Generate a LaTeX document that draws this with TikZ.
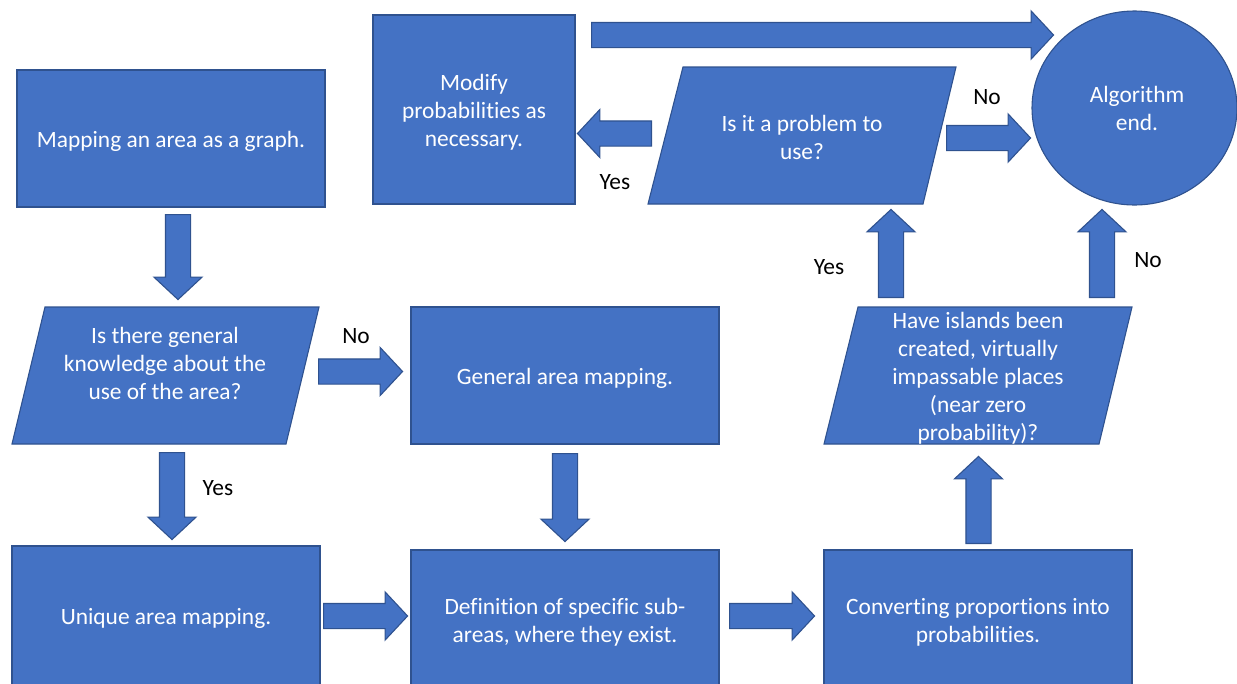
\documentclass[tikz,border=0pt]{standalone}
\usepackage{fontspec}
\setmainfont{Carlito}[RawFeature={-liga;-clig}]
\usetikzlibrary{shapes.arrows,shapes.geometric}
\definecolor{fillblue}{HTML}{4472C4}
\definecolor{edgeblue}{HTML}{2F528F}
\tikzset{
  blk/.style={fill=fillblue, draw=edgeblue, line width=1.1pt},
  box/.style={blk, rectangle, inner sep=0pt},
  txt/.style={inner sep=0pt, text=white, align=center, font=\fontsize{23.4}{28}\selectfont},
  lbl/.style={inner sep=0pt, text=black, font=\fontsize{23.4}{28}\selectfont},
  barrow/.style={blk, single arrow, inner xsep=0pt, inner ysep=12pt, anchor=tail,
    single arrow head extend=11.5pt, single arrow tip angle=94, minimum height=#1},
}
\begin{document}
\begin{tikzpicture}[x=1pt, y=-1pt]
\useasboundingbox (0,0) rectangle (1237,683);
\clip (0,0) rectangle (1237,683);

% boxes
\node[box, minimum width=308pt, minimum height=137pt] (map) at (171,138.5) {};
\node[txt] (mapt) at ([yshift=-2.5pt]map.center) {Mapping an area as a graph.};
\node[box, minimum width=202pt, minimum height=189pt] (modify) at (474,109.5) {};
\node[txt] (modifyt) at ([yshift=-3pt]modify.center) {Modify\\probabilities as\\necessary.};
\node[box, minimum width=308pt, minimum height=137pt] (gen) at (565,375.5) {};
\node[txt] (gent) at ([yshift=-3pt]gen.center) {General area mapping.};
\node[box, minimum width=308pt, minimum height=140pt] (uniq) at (166,616) {};
\node[txt] (uniqt) at ([yshift=-2pt]uniq.center) {Unique area mapping.};
\node[box, minimum width=308pt, minimum height=141pt] (def) at (565,620.5) {};
\node[txt] (deft) at ([yshift=-2pt]def.center) {Definition of specific sub-\\areas, where they exist.};
\node[box, minimum width=308pt, minimum height=141pt] (conv) at (978,620.5) {};
\node[txt] (convt) at ([yshift=-2pt]conv.center) {Converting proportions into\\probabilities.};
\node[blk, ellipse, minimum width=205pt, minimum height=194pt, inner sep=0pt] (endc) at (1134.5,108) {};
\node[txt] (endt) at (1137,108) {Algorithm\\end.};

% parallelograms
\draw[blk] (45,307) -- (319,307) -- (286,444) -- (12,444) -- cycle;
\node[txt] (q1) at (165,363) {Is there general\\knowledge about the\\use of the area?};
\draw[blk] (858,307) -- (1132,307) -- (1099,444) -- (824,444) -- cycle;
\node[txt] (q2) at (978,378.5) {Have islands been\\created, virtually\\impassable places\\(near zero\\probability)?};
\draw[blk] (683,67) -- (956,67) -- (923,204) -- (648,204) -- cycle;
\node[txt] (q3) at (802,137) {Is it a problem to\\use?};

% block arrows (placed by their tails)
\node[barrow=85pt, rotate=-90] (a1) at (178,214) {};
\node[barrow=84pt] (a2) at (318,371.5) {};
\node[barrow=87pt, rotate=-90] (a3) at (172,452) {};
\node[barrow=88pt, rotate=-90] (a4) at (565,453) {};
\node[barrow=84pt] (a5) at (323,616) {};
\node[barrow=85pt] (a6) at (729,616) {};
\node[barrow=87pt, rotate=90] (a7) at (978.5,544) {};
\node[barrow=88pt, rotate=90] (a8) at (891,298) {};
\node[barrow=88pt, rotate=90] (a9) at (1102,298) {};
\node[barrow=74pt, rotate=180] (a10) at (652,133.5) {};
\node[barrow=84pt] (a11) at (946,138) {};
\node[barrow=462pt] (a12) at (591,35) {};

% labels
\node[lbl] (l1) at (356,336) {No};
\node[lbl] (l2) at (218,488) {Yes};
\node[lbl] (l3) at (829,267) {Yes};
\node[lbl] (l4) at (1148,260) {No};
\node[lbl] (l5) at (615,182) {Yes};
\node[lbl] (l6) at (987,97) {No};
\end{tikzpicture}
\end{document}
